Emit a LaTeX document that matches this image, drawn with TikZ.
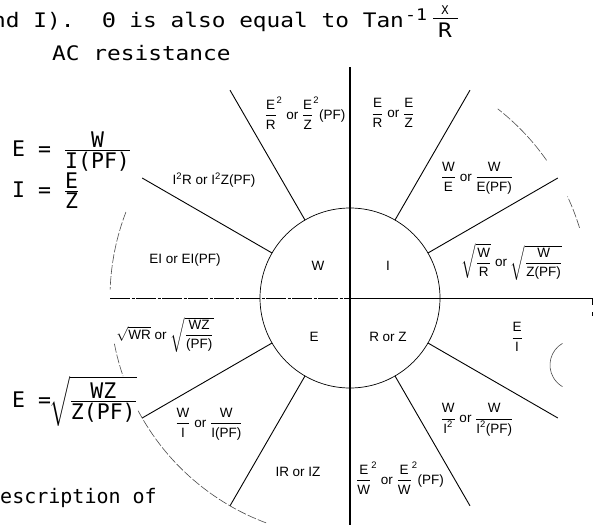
\documentclass[tikz,border=0pt]{standalone}
\usepackage{fontspec}
\usepackage{amsmath}
\newfontfamily\twfont{DejaVu Sans Mono}
\newfontfamily\twwide[FakeStretch=1.14]{DejaVu Sans Mono}
\newfontfamily\wfont{Liberation Sans}
\newcommand\tx[1]{\text{#1}}
\newcommand\tf[2]{\tfrac{\mbox{#1}}{\mbox{#2}}}
\begin{document}
\begin{tikzpicture}[x=1pt,y=-1pt,
  tw/.style={font=\twfont\fontsize{21.5}{25}\selectfont, inner sep=0pt},
  twtop/.style={font=\twwide\fontsize{20}{24}\selectfont, inner sep=0pt},
  twbot/.style={font=\twfont\fontsize{20}{24}\selectfont, inner sep=0pt},
  twsup/.style={font=\twwide\fontsize{16}{18}\selectfont, inner sep=0pt},
  wl/.style={font=\wfont\fontsize{13.5}{15}\selectfont, inner sep=0pt},
  axisv/.style={line width=1.5pt},
  axish/.style={line width=0.9pt},
  innerc/.style={line width=0.7pt},
  radial/.style={line width=0.9pt},
  outerc/.style={line width=0.6pt, black!70, dash pattern=on 9pt off 2pt}]
\useasboundingbox (0,0) rectangle (600,525);
\fill[white] (0,0) rectangle (600,525);
\coordinate (C) at (350,298);
% axes
\coordinate (vt) at (350,67);
\coordinate (vb) at (350,525);
\coordinate (hl) at (110,298);
\coordinate (hr) at (592,298);
\coordinate (hrt) at (592,305);
\coordinate (hd1) at (592,312);
\coordinate (hd2) at (592,316);
\draw[axisv] (vt) -- (vb);
\draw[axish, dash pattern=on 20pt off 1.5pt on 3pt off 1.5pt] (hl) -- (C);
\draw[axish] (C) -- (hr) -- (hrt);
\draw[line width=0.6pt] (hd1) -- (hd2);
% inner circle
\draw[innerc] (C) circle[radius=90];
% radial lines
\foreach \a in {30,60,120,150,210,240,300,330}
  \draw[radial, shift={(C)}] (-\a:90) -- (-\a:240);
% outer partial arcs
\draw[outerc, shift={(C)}] (-159:240) arc[start angle=-159, end angle=-178, radius=240];
\draw[outerc, shift={(C)}] (-35:240) arc[start angle=-35, end angle=-52, radius=240];
\draw[outerc, shift={(C)}] (-17:240) arc[start angle=-17, end angle=-25, radius=240];
\draw[outerc, shift={(C)}] (-191:240) arc[start angle=-191, end angle=-199, radius=240];
\draw[outerc, shift={(C)}] (-208:240) arc[start angle=-208, end angle=-250, radius=240];
\coordinate (pc) at (575,365);
\draw[outerc, solid, shift={(pc)}] (-120:25) arc[start angle=-120, end angle=-240, radius=25];
% inner labels
\node[wl] (sW) at (318,266) {W};
\node[wl] (sI) at (388,266) {I};
\node[wl] (sE) at (314,337) {E};
\node[wl] (sRZ) at (388,337) {R or Z};
% sector labels
\node[wl] (tA) at (305,113) {$\dfrac{\tx{E}}{\tx{R}}^{\tx{2}}$ or $\dfrac{\tx{E}}{\tx{Z}}^{\tx{2}}$(PF)};
\node[wl] (tB) at (393,113) {$\dfrac{\tx{E}}{\tx{R}}$ or $\dfrac{\tx{E}}{\tx{Z}}$};
\node[wl] (tC) at (477,178) {$\dfrac{\tx{W}}{\tx{E}}$ or $\dfrac{\tx{W}}{\tx{E(PF)}}$};
\node[wl] (tD) at (512,262) {$\sqrt{\dfrac{\tx{W}}{\tx{R}}}$ or $\sqrt{\dfrac{\tx{W}}{\tx{Z(PF)}}}$};
\node[wl] (tE) at (517,337) {$\dfrac{\tx{E}}{\tx{I}}$};
\node[wl] (tF) at (477,420) {$\dfrac{\tx{W}}{\tx{I}^{\tx{2}}}$ or $\dfrac{\tx{W}}{\tx{I}^{\tx{2}}\tx{(PF)}}$};
\node[wl] (tG) at (400,478) {$\dfrac{\tx{E}}{\tx{W}}^{\tx{2}}$ or $\dfrac{\tx{E}}{\tx{W}}^{\tx{2}}$(PF)};
\node[wl] (tH) at (298,472) {IR or IZ};
\node[wl] (tI) at (209,424) {$\dfrac{\tx{W}}{\tx{I}}$ or $\dfrac{\tx{W}}{\tx{I(PF)}}$};
\node[wl] (tJ) at (165,335) {$\sqrt{\tx{WR}}$ or $\sqrt{\dfrac{\tx{WZ}}{\tx{(PF)}}}$};
\node[wl] (tK) at (185,260) {EI or EI(PF)};
\node[wl] (tL) at (214,180) {I$^{\tx{2}}$R or I$^{\tx{2}}$Z(PF)};
% surrounding page text
\node[twtop, anchor=base west] (l1) at (-8,27) {nd I).~~Θ is also equal to Tan};
\node[twsup, anchor=base west] (l1s) at (405,20) {-1};
\node[font=\twfont\fontsize{12}{14}\selectfont, inner sep=0pt] (l1x) at (445,10) {X};
\node[twtop, anchor=base] (l1r) at (445,37) {R};
\coordinate (b1) at (433,18);
\coordinate (b2) at (458,18);
\draw[line width=0.5pt] (b1) -- (b2);
\node[twtop, anchor=base west] (l2) at (52,60) {AC resistance};
\node[tw, anchor=base west] (f1) at (12,156) {E = $\tf{W}{I(PF)}$};
\node[tw, anchor=base west] (f2) at (12,197) {I = $\tf{E}{Z}$};
\node[tw, anchor=base west] (f3) at (12,407) {E =\kern-2pt$\sqrt{\tf{WZ}{Z(PF)}}$};
\node[twbot, anchor=base west] (l3) at (-12,503) {Description of};
\end{tikzpicture}
\end{document}
